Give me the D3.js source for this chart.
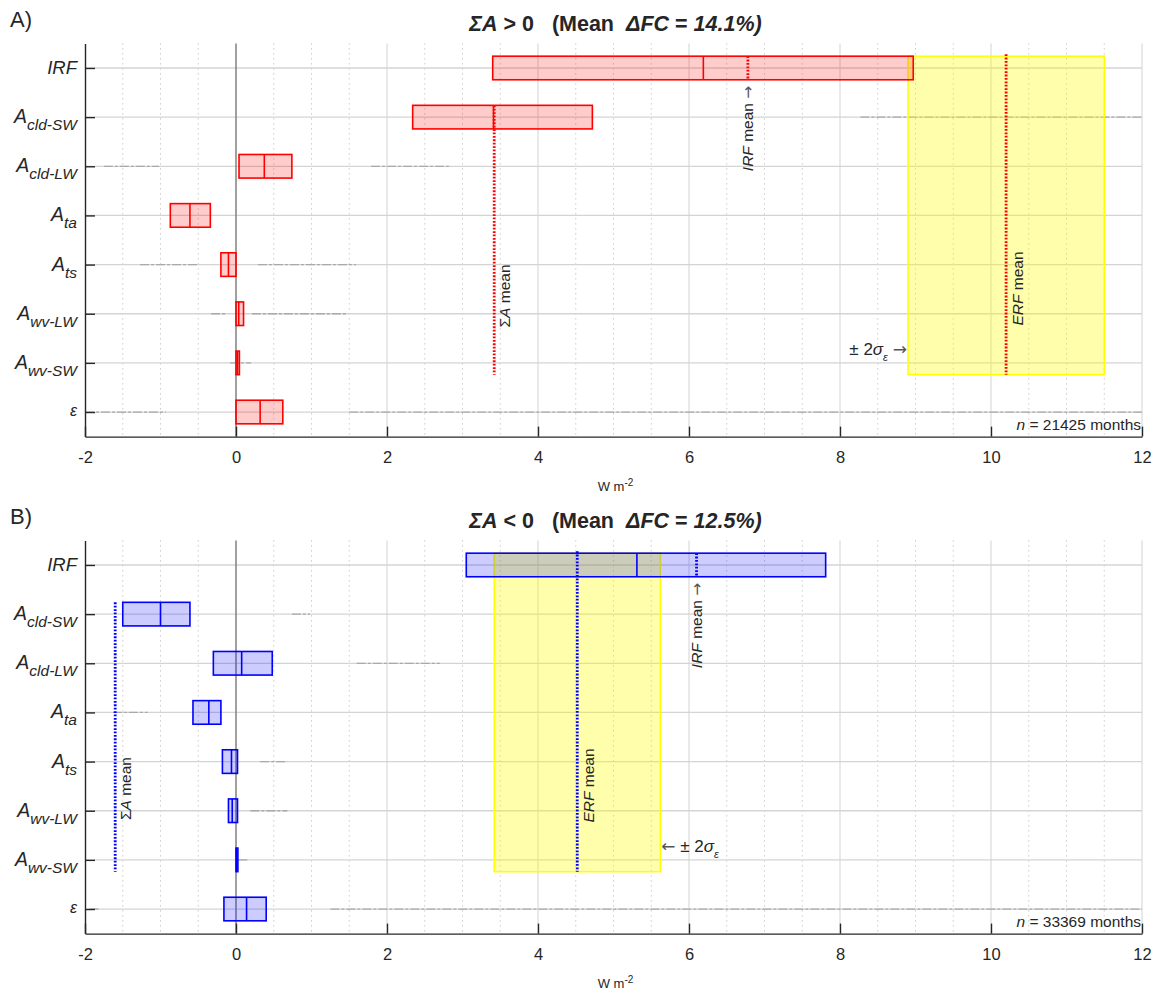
<!DOCTYPE html>
<html>
<head>
<meta charset="utf-8">
<script src="https://cdn.jsdelivr.net/npm/d3@7"></script>
<style>
  body { margin: 0; background: #fff; }
  svg { display: block; }
  text { font-family: "Liberation Sans", Arial, Helvetica, sans-serif; fill: #262626; }
  .arrow { font-family: "DejaVu Sans", sans-serif; }
</style>
</head>
<body>
<svg id="chart" width="1157" height="994"></svg>
<script>
// ---- categories (rows, top to bottom) ----
const labelMain = ["IRF", "A", "A", "A", "A", "A", "A", "\u03B5"];
const labelSub  = ["", "cld-SW", "cld-LW", "ta", "ts", "wv-LW", "wv-SW", ""];
const xTicks = [-2, 0, 2, 4, 6, 8, 10, 12];

// ---- panel A: ΣA > 0 (W m-2) ----
const posQ1  = [3.40, 2.34, 0.04, -0.87, -0.20, 0.00, 0.00, 0.00];
const posMed = [6.19, 3.41, 0.375, -0.61, -0.10, 0.036, 0.02, 0.32];
const posQ3  = [8.97, 4.72, 0.74, -0.34, 0.00, 0.10, 0.045, 0.62];
const posMeanSumA = 3.42;
const posMeanIRF = 6.78;
const posMeanERF = 10.20;
const posTwoSigma = 1.30;
const posCount = 21425;
const posFC = "14.1%";
// faint spread of individual months: [row, from, to]
const posSpread = [[2, 8.27, 12], [3, -1.75, -1.02], [3, 1.79, 2.82], [5, -1.27, -0.49], [5, 0.29, 1.59],
                   [6, -0.33, -0.12], [6, 0.21, 1.47], [7, -0.08, 0.20], [8, -2, -0.93], [8, 1.50, 12]];

// ---- panel B: ΣA < 0 (W m-2) ----
const negQ1  = [3.05, -1.50, -0.30, -0.57, -0.18, -0.10, 0.00, -0.16];
const negMed = [5.31, -1.00, 0.075, -0.36, -0.06, -0.05, 0.01, 0.14];
const negQ3  = [7.81, -0.61, 0.48, -0.20, 0.02, 0.02, 0.025, 0.40];
const negMeanSumA = -1.60;
const negMeanIRF = 6.10;
const negMeanERF = 4.52;
const negTwoSigma = 1.10;
const negCount = 33369;
const negFC = "12.5%";
const negSpread = [[2, 0.74, 0.98], [3, 1.60, 2.70], [4, -1.63, -1.17], [5, 0.32, 0.68],
                   [6, 0.19, 0.68], [7, 0.03, 0.15], [8, -1.94, -1.80], [8, 1.25, 12]];

const svg = d3.select("#chart");
const x = d3.scaleLinear().domain([-2, 12]).range([85, 1142]);
const HALF = 0.24; // half box height in row units

function drawPanel(p) {
  const g = svg.append("g");
  const y = d3.scaleLinear().domain([0.5, 8.5]).range([p.top, p.top + 393.2]);
  const [yTop, yBot] = y.range();
  const rows = d3.range(1, 9);
  const n = p.q1.length;

  // minor grid (dotted) every 0.5
  g.append("g").selectAll("line")
    .data(d3.range(-1.5, 12, 0.5).filter(v => v % 2 !== 0))
    .join("line")
    .attr("x1", d => x(d)).attr("x2", d => x(d)).attr("y1", yTop).attr("y2", yBot)
    .attr("stroke", "#b3b3b3").attr("stroke-width", 1).attr("stroke-dasharray", "1,4");
  // major grid
  g.append("g").selectAll("line")
    .data(xTicks.filter(v => v > 0))
    .join("line")
    .attr("x1", d => x(d)).attr("x2", d => x(d)).attr("y1", yTop).attr("y2", yBot)
    .attr("stroke", "#dadada").attr("stroke-width", 1.2);
  g.append("g").selectAll("line")
    .data(rows)
    .join("line")
    .attr("x1", x(-2)).attr("x2", x(12)).attr("y1", d => y(d)).attr("y2", d => y(d))
    .attr("stroke", "#d4d4d4").attr("stroke-width", 1.3);

  // spread of months
  g.append("g").selectAll("line")
    .data(p.spread)
    .join("line")
    .attr("x1", d => x(d[1])).attr("x2", d => x(d[2]))
    .attr("y1", d => y(d[0])).attr("y2", d => y(d[0]))
    .attr("stroke", "#a9a9a9").attr("stroke-width", 1.3).attr("stroke-dasharray", "9,2,3,2");

  // zero line
  g.append("line")
    .attr("x1", x(0)).attr("x2", x(0)).attr("y1", yTop).attr("y2", yBot)
    .attr("stroke", "#808080").attr("stroke-width", 1.5);

  // ERF ± 2σ band
  g.append("rect")
    .attr("x", x(p.erf - p.sigma2)).attr("width", x(p.erf + p.sigma2) - x(p.erf - p.sigma2))
    .attr("y", y(1 - HALF)).attr("height", y(7 + HALF) - y(1 - HALF))
    .attr("fill", "rgba(255,255,0,0.33)").attr("stroke", "#ffff00").attr("stroke-width", 1.5);

  // boxes
  const idx = d3.range(n);
  g.append("g").selectAll("rect")
    .data(idx)
    .join("rect")
    .attr("x", i => x(p.q1[i])).attr("width", i => Math.max(x(p.q3[i]) - x(p.q1[i]), 0.5))
    .attr("y", i => y(i + 1 - HALF)).attr("height", y(1 + HALF) - y(1 - HALF))
    .attr("fill", p.fill).attr("stroke", p.color).attr("stroke-width", 1.6);
  g.append("g").selectAll("line")
    .data(idx)
    .join("line")
    .attr("x1", i => x(p.med[i])).attr("x2", i => x(p.med[i]))
    .attr("y1", i => y(i + 1 - HALF)).attr("y2", i => y(i + 1 + HALF))
    .attr("stroke", p.color).attr("stroke-width", 1.6);

  // mean lines (dotted)
  const dotted = (v, r0, r1) => g.append("line")
    .attr("x1", x(v)).attr("x2", x(v)).attr("y1", y(r0)).attr("y2", y(r1))
    .attr("stroke", p.color).attr("stroke-width", 2.8).attr("stroke-dasharray", "1.8,1.6");
  dotted(p.sumA, 2 - HALF, 7 + HALF);
  dotted(p.irf, 1 - HALF, 1 + HALF);
  dotted(p.erf, 1 - HALF - 0.04, 7 + HALF);

  // axes
  const xAxis = d3.axisBottom(x).tickValues(xTicks).tickFormat(d => String(d))
    .tickSizeInner(-10).tickSizeOuter(0).tickPadding(15);
  const ax = g.append("g").attr("transform", `translate(0,${yBot})`).call(xAxis);
  ax.select(".domain").attr("stroke", "#262626").attr("stroke-width", 1.4);
  ax.selectAll(".tick line").attr("stroke", "#262626").attr("stroke-width", 1.4);
  ax.selectAll(".tick text").attr("font-size", 16.5).attr("fill", "#333")
    .style("font-family", '"Liberation Sans", Arial, sans-serif');

  const yAxis = d3.axisLeft(y).tickValues(rows).tickFormat("").tickSizeInner(-10).tickSizeOuter(0);
  const ay = g.append("g").attr("transform", `translate(${x(-2)},0)`).call(yAxis);
  ay.select(".domain").attr("stroke", "#262626").attr("stroke-width", 1.4);
  ay.selectAll(".tick line").attr("stroke", "#262626").attr("stroke-width", 1.4);

  // row labels
  rows.forEach((r, i) => {
    const t = g.append("text").attr("x", 77).attr("y", y(r) + 6).attr("text-anchor", "end")
      .attr("font-style", "italic");
    if (labelSub[i]) {
      t.append("tspan").attr("font-size", 19.5).text(labelMain[i]);
      t.append("tspan").attr("font-size", 15.5).attr("dy", 7).text(labelSub[i]);
    } else if (i === 0) {
      t.attr("font-size", 18.5).text(labelMain[i]);
    } else {
      t.attr("font-size", 16).attr("y", y(r) + 4).text(labelMain[i]);
    }
  });

  // x axis unit
  const unit = g.append("text").attr("x", (x(-2) + x(12)) / 2 + 2).attr("y", yBot + 54)
    .attr("text-anchor", "middle").attr("font-size", 13);
  unit.append("tspan").text("W m");
  unit.append("tspan").attr("font-size", 10).attr("dy", -5).text("-2");

  // title
  const title = g.append("text").attr("x", (x(-2) + x(12)) / 2 + 2).attr("y", p.top - 12.5)
    .attr("text-anchor", "middle").attr("font-size", 21.5).attr("font-weight", "bold")
    .style("white-space", "pre").attr("fill", "#111");
  title.append("tspan").attr("font-style", "italic").text("\u03A3A");
  title.append("tspan").text(` ${p.sign} 0   (Mean  `);
  title.append("tspan").attr("font-style", "italic").text("\u0394FC");
  title.append("tspan").text(" = ");
  title.append("tspan").attr("font-style", "italic").text(p.fc + ")");

  // panel letter
  svg.append("text").attr("x", 10).attr("y", p.top - 16).attr("font-size", 22).text(p.letter);

  // sample size
  const nt = g.append("text").attr("x", x(12) - 1).attr("y", yBot - 7)
    .attr("text-anchor", "end").attr("font-size", 15.5);
  nt.append("tspan").attr("font-style", "italic").text("n");
  nt.append("tspan").text(` = ${p.count} months`);

  // rotated annotations
  const vlabel = (xv, yv, anchor, parts) => {
    const t = g.append("text")
      .attr("transform", `translate(${xv},${yv}) rotate(-90)`)
      .attr("text-anchor", anchor).attr("dy", "0.35em").attr("font-size", 15.5)
      .style("white-space", "pre");
    parts.forEach(([s, it, cls]) => {
      const ts = t.append("tspan").attr("font-style", it ? "italic" : "normal").text(s);
      if (cls) ts.attr("class", cls).attr("fill", "#555");
    });
  };
  vlabel(x(p.sumA) + 10, y(p.sumLabelRow), "start", [["\u03A3", false], ["A", true], [" mean", false]]);
  vlabel(x(p.erf) + 11, y(6.24), "start", [["ERF", true], [" mean", false]]);
  vlabel(x(p.irf), y(1 + HALF) + 6, "end", [["IRF", true], [" mean ", false], ["\u2192", false, "arrow"]]);

  // ± 2σ annotation
  const s = g.append("text").attr("y", y(6.84)).attr("font-size", 17).style("white-space", "pre");
  if (p.sigmaSide === "left") {
    s.attr("x", x(p.erf - p.sigma2) - 1).attr("text-anchor", "end");
    s.append("tspan").text("\u00B1 2");
    s.append("tspan").attr("font-style", "italic").text("\u03C3");
    s.append("tspan").attr("font-size", 11).attr("font-style", "italic").attr("dy", 6).text("\u03B5");
    s.append("tspan").attr("dy", -6).text(" ");
    s.append("tspan").attr("class", "arrow").attr("fill", "#555").text("\u2192");
  } else {
    s.attr("x", x(p.erf + p.sigma2) + 1).attr("text-anchor", "start");
    s.append("tspan").attr("class", "arrow").attr("fill", "#555").text("\u2190");
    s.append("tspan").text(" \u00B1 2");
    s.append("tspan").attr("font-style", "italic").text("\u03C3");
    s.append("tspan").attr("font-size", 11).attr("font-style", "italic").attr("dy", 6).text("\u03B5");
  }
}

drawPanel({
  top: 43.4, letter: "A)", sign: ">", fc: posFC, count: posCount,
  q1: posQ1, med: posMed, q3: posQ3, spread: posSpread,
  sumA: posMeanSumA, irf: posMeanIRF, erf: posMeanERF, sigma2: posTwoSigma,
  color: "#ff0000", fill: "rgba(255,0,0,0.2)", sigmaSide: "left", sumLabelRow: 6.28
});
drawPanel({
  top: 540.4, letter: "B)", sign: "<", fc: negFC, count: negCount,
  q1: negQ1, med: negMed, q3: negQ3, spread: negSpread,
  sumA: negMeanSumA, irf: negMeanIRF, erf: negMeanERF, sigma2: negTwoSigma,
  color: "#0000ff", fill: "rgba(0,0,255,0.2)", sigmaSide: "right", sumLabelRow: 6.19
});
</script>
</body>
</html>
